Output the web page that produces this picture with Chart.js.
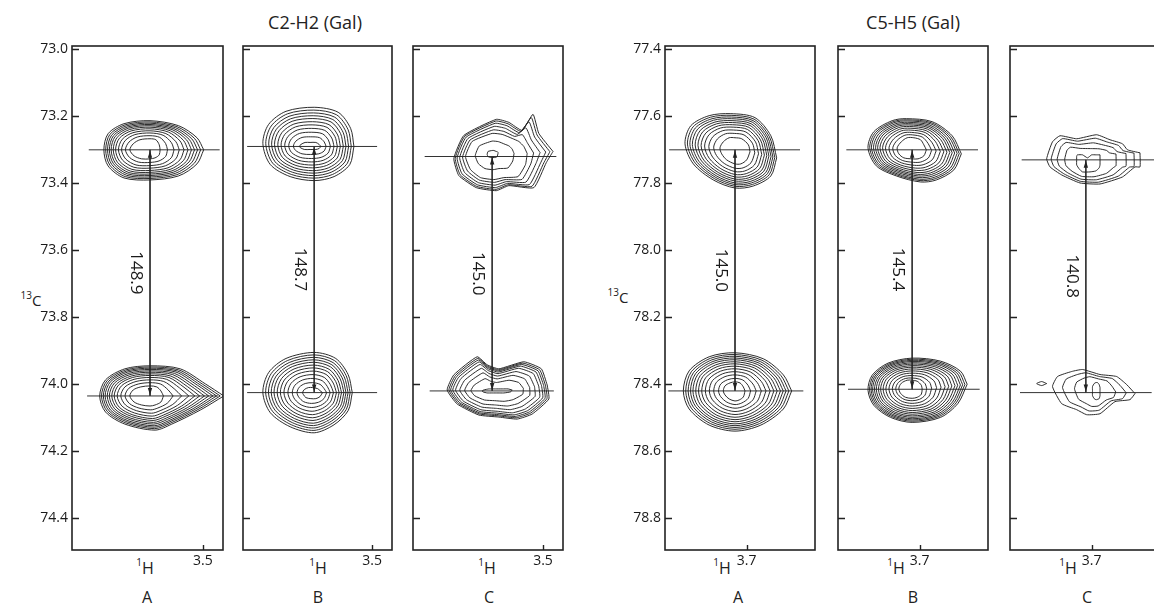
<!DOCTYPE html>
<html><head><meta charset="utf-8">
<script src="https://cdn.jsdelivr.net/npm/chart.js@4.4.0/dist/chart.umd.min.js"></script>
<style>
html,body{margin:0;padding:0;background:#fff;width:1154px;height:606px;overflow:hidden;font-family:"Open Sans",sans-serif;color:#222}
.box{position:absolute}
.t{position:absolute;white-space:nowrap;transform:translate(-50%,-50%);line-height:1}
.t sup{font-size:10px;vertical-align:top;position:relative;top:-3px}
</style></head><body>
<div class="t" style="left:315px;top:22px;font-size:18px">C2-H2 (Gal)</div>
<div class="t" style="left:913px;top:22px;font-size:18px">C5-H5 (Gal)</div>
<div class="t" style="left:31px;top:300px;font-size:15px"><sup>13</sup>C</div>
<div class="t" style="left:618px;top:297px;font-size:15px"><sup>13</sup>C</div>
<div id="txt"></div>
<script>
// ---------------- DATA ----------------
const panelNames = ['A', 'B', 'C'];
// C2-H2 (Gal) group
const leftCRange = [72.99, 74.495];
const leftHRange = [3.476, 3.656];
const leftYTicks = [73.0, 73.2, 73.4, 73.6, 73.8, 74.0, 74.2, 74.4];
const leftXTicks = [3.5];
const leftJ = ['148.9', '148.7', '145.0'];
const leftCenterH = [3.563, 3.570, 3.561];
const leftUpperC = [73.30, 73.29, 73.32];
const leftLowerC = [74.035, 74.025, 74.02];
const leftUpperLineH = [[3.636, 3.480], [3.651, 3.494], [3.642, 3.484]];
const leftLowerLineH = [[3.638, 3.482], [3.651, 3.494], [3.636, 3.487]];
// C5-H5 (Gal) group
const rightCRange = [77.39, 78.895];
const rightHRange = [3.618, 3.798];
const rightYTicks = [77.4, 77.6, 77.8, 78.0, 78.2, 78.4, 78.6, 78.8];
const rightXTicks = [3.7];
const rightJ = ['145.0', '145.4', '140.8'];
const rightCenterH = [3.714, 3.709, 3.707];
const rightUpperC = [77.70, 77.70, 77.73];
const rightLowerC = [78.42, 78.415, 78.425];
const rightUpperLineH = [[3.793, 3.636], [3.788, 3.630], [3.784, 3.600]];
const rightLowerLineH = [[3.794, 3.632], [3.786, 3.628], [3.786, 3.628]];

// contour outlines: [dH, dC] offsets (ppm) from the cross-peak centre
const L_A_up_out = [[-0.064,0],[-0.056,0.042],[-0.034,0.078],[0,0.090],[0.031,0.084],[0.050,0.048],[0.055,0],[0.050,-0.048],[0.031,-0.078],[0,-0.087],[-0.034,-0.072],[-0.056,-0.036]];
const L_A_up_in  = [[-0.012,0],[-0.011,0.015],[-0.006,0.024],[0,0.027],[0.010,0.027],[0.019,0.018],[0.024,0],[0.020,-0.018],[0.012,-0.030],[0,-0.033],[-0.007,-0.030],[-0.011,-0.015]];
const L_A_lo_out = [[-0.088,0],[-0.060,0.042],[-0.026,0.084],[-0.006,0.102],[0.030,0.084],[0.053,0.048],[0.060,0],[0.053,-0.048],[0.030,-0.081],[0,-0.090],[-0.036,-0.081],[-0.066,-0.036]];
const L_A_lo_in  = [[-0.016,0],[-0.013,0.018],[-0.006,0.027],[0,0.030],[0.010,0.027],[0.019,0.018],[0.024,0],[0.020,-0.018],[0.011,-0.027],[0,-0.030],[-0.008,-0.027],[-0.013,-0.015]];
const L_B_up_out = [[-0.048,0],[-0.043,0.054],[-0.024,0.090],[0,0.102],[0.029,0.090],[0.053,0.054],[0.062,-0.009],[0.055,-0.066],[0.034,-0.105],[0,-0.117],[-0.029,-0.102],[-0.044,-0.054]];
const L_B_up_in  = [[-0.008,0],[-0.006,0.006],[-0.002,0.009],[0.005,0.009],[0.012,0.009],[0.017,0.003],[0.018,0],[0.016,-0.006],[0.011,-0.012],[0.005,-0.012],[-0.002,-0.012],[-0.006,-0.006]];
const L_B_lo_out = [[-0.046,0],[-0.041,0.054],[-0.024,0.096],[0,0.120],[0.029,0.102],[0.053,0.060],[0.062,0],[0.055,-0.060],[0.034,-0.102],[0,-0.120],[-0.026,-0.102],[-0.041,-0.054]];
const L_B_lo_in  = [[-0.010,0],[-0.007,0.012],[-0.002,0.018],[0.004,0.018],[0.010,0.015],[0.013,0.006],[0.014,0],[0.012,-0.009],[0.007,-0.015],[0.002,-0.015],[-0.004,-0.012],[-0.007,-0.006]];
const L_C_up_out = [[-0.073,-0.015],[-0.065,0.018],[-0.050,0.093],[-0.020,0.087],[-0.005,0.102],[0.019,0.093],[0.040,0.057],[0.046,0.006],[0.034,-0.063],[-0.005,-0.111],[-0.020,-0.102],[-0.036,-0.078],[-0.049,-0.126],[-0.056,-0.069]];
const L_C_up_mid = [[-0.042,-0.009],[-0.040,0.024],[-0.031,0.060],[-0.014,0.063],[-0.002,0.069],[0.014,0.063],[0.026,0.039],[0.032,0],[0.024,-0.045],[0,-0.069],[-0.012,-0.066],[-0.024,-0.054],[-0.032,-0.045],[-0.038,-0.030]];
const L_C_up_in  = [[-0.007,-0.009],[-0.006,0],[-0.004,0.003],[-0.001,0.003],[0,0.003],[0.002,0.003],[0.005,0],[0.006,-0.006],[0.005,-0.015],[0,-0.018],[-0.002,-0.018],[-0.005,-0.015],[-0.006,-0.015],[-0.007,-0.012]];
const L_C_lo_out = [[-0.066,-0.018],[-0.068,0.024],[-0.048,0.069],[-0.030,0.084],[-0.008,0.078],[0.016,0.072],[0.042,0.039],[0.054,-0.003],[0.046,-0.048],[0.018,-0.102],[0.006,-0.078],[-0.008,-0.066],[-0.038,-0.087],[-0.059,-0.066]];
const L_C_lo_in  = [[-0.024,-0.003],[-0.022,0.003],[-0.014,0.006],[-0.007,0.006],[0,0.006],[0.006,0.006],[0.011,0.003],[0.012,0],[0.010,-0.003],[0.004,-0.006],[0,-0.006],[-0.004,-0.006],[-0.012,-0.006],[-0.019,-0.006]];
const R_A_up_out = [[-0.050,0.024],[-0.043,0.078],[-0.022,0.108],[0,0.114],[0.026,0.090],[0.050,0.042],[0.060,-0.018],[0.053,-0.072],[0.031,-0.102],[0.005,-0.108],[-0.024,-0.096],[-0.043,-0.042]];
const R_A_up_in  = [[-0.018,0.006],[-0.014,0.030],[-0.007,0.042],[0,0.042],[0.010,0.030],[0.016,0.012],[0.018,-0.006],[0.014,-0.024],[0.007,-0.036],[0,-0.036],[-0.008,-0.033],[-0.016,-0.015]];
const R_A_lo_out = [[-0.068,0],[-0.058,0.054],[-0.031,0.102],[0,0.120],[0.031,0.102],[0.055,0.054],[0.062,0],[0.055,-0.060],[0.031,-0.102],[0,-0.114],[-0.034,-0.096],[-0.058,-0.048]];
const R_A_lo_in  = [[-0.012,0],[-0.010,0.018],[-0.005,0.027],[0,0.030],[0.007,0.024],[0.012,0.012],[0.014,0],[0.012,-0.015],[0.006,-0.024],[0,-0.027],[-0.006,-0.024],[-0.010,-0.012]];
const R_B_up_out = [[-0.059,0.012],[-0.050,0.060],[-0.029,0.090],[-0.010,0.096],[0.019,0.078],[0.043,0.048],[0.053,-0.006],[0.046,-0.054],[0.024,-0.087],[0.007,-0.093],[-0.024,-0.084],[-0.048,-0.042]];
const R_B_up_in  = [[-0.017,0],[-0.014,0.018],[-0.007,0.027],[0,0.027],[0.010,0.024],[0.016,0.012],[0.018,-0.006],[0.013,-0.024],[0.006,-0.036],[-0.002,-0.036],[-0.010,-0.030],[-0.014,-0.015]];
const R_B_lo_out = [[-0.066,-0.015],[-0.055,0.042],[-0.034,0.084],[0,0.099],[0.026,0.084],[0.046,0.048],[0.053,0.003],[0.048,-0.042],[0.029,-0.078],[0,-0.093],[-0.034,-0.084],[-0.058,-0.054]];
const R_B_lo_in  = [[-0.012,0],[-0.011,0.015],[-0.006,0.024],[0,0.027],[0.008,0.024],[0.014,0.012],[0.016,-0.003],[0.013,-0.018],[0.006,-0.027],[0,-0.027],[-0.006,-0.024],[-0.011,-0.012]];
const R_C_up_out = [[-0.065,-0.021],[-0.065,0.021],[-0.059,0.021],[-0.044,0.051],[-0.017,0.072],[0.007,0.069],[0.029,0.045],[0.043,0.021],[0.047,-0.003],[0.040,-0.054],[0.031,-0.072],[0.011,-0.063],[-0.013,-0.075],[-0.029,-0.060],[-0.044,-0.048],[-0.050,-0.030]];
const R_C_up_in  = [[-0.017,-0.015],[-0.017,0.015],[-0.016,0.024],[-0.012,0.033],[-0.005,0.036],[0.004,0.036],[0.008,0.027],[0.011,0.015],[0.011,0],[0.011,-0.012],[0.010,-0.015],[0.004,-0.015],[-0.002,-0.006],[-0.007,-0.015],[-0.012,-0.015],[-0.014,-0.015]];
const R_C_lo_out = [[-0.059,0.003],[-0.053,0.021],[-0.035,0.027],[-0.017,0.063],[-0.001,0.066],[0.011,0.051],[0.029,0.033],[0.040,-0.018],[0.034,-0.048],[0.017,-0.063],[0.004,-0.069],[-0.017,-0.054],[-0.037,-0.048],[-0.049,-0.024]];
const R_C_lo_in  = [[-0.017,-0.006],[-0.017,0.009],[-0.016,0.018],[-0.013,0.021],[-0.012,0.021],[-0.010,0.018],[-0.008,0.009],[-0.008,-0.006],[-0.008,-0.018],[-0.010,-0.027],[-0.012,-0.030],[-0.014,-0.030],[-0.016,-0.024],[-0.017,-0.015]];
const R_C_lo_blob = [[0.047,-0.027],[0.053,-0.021],[0.059,-0.027],[0.053,-0.033]];

// contour levels: position along the key outlines (0 = outer outline, last = innermost outline)
const LV_L_A_up = [0,0.07,0.14,0.21,0.28,0.36,0.45,0.56,0.68,0.83,1];
const LV_L_A_lo = [0,0.06,0.12,0.18,0.25,0.32,0.40,0.48,0.58,0.70,0.84,1];
const LV_L_B_up = [0,0.08,0.16,0.24,0.32,0.41,0.50,0.60,0.71,0.84,1];
const LV_L_B_lo = [0,0.07,0.14,0.21,0.28,0.36,0.44,0.53,0.63,0.74,0.86,1];
const LV_L_C_up = [0,0.12,0.28,0.5,0.75,1.0,1.45,2];
const LV_L_C_lo = [0,0.05,0.1,0.16,0.24,0.36,0.5,0.68,1];
const LV_R_A_up = [0,0.07,0.14,0.21,0.29,0.37,0.46,0.56,0.68,0.82,1];
const LV_R_A_lo = [0,0.06,0.12,0.18,0.24,0.31,0.38,0.46,0.55,0.65,0.76,0.88,1];
const LV_R_B_up = [0,0.06,0.12,0.19,0.26,0.33,0.41,0.5,0.6,0.72,0.85,1];
const LV_R_B_lo = [0,0.05,0.1,0.15,0.21,0.27,0.34,0.41,0.49,0.58,0.68,0.79,0.9,1];
const LV_R_C_up = [0,0.15,0.35,0.6,1];
const LV_R_C_lo = [0,0.25,0.55,1];

// ---------------- LAYOUT (pixels, not data) ----------------
const TOP = 46, BOTTOM = 550, YW = 52, XH = 30, PT = 14, PR = 6;
const layout = [
  {g:'L', i:0, L:72,  R:223, name:145, letter:147},
  {g:'L', i:1, L:243, R:392, name:318, letter:318},
  {g:'L', i:2, L:413, R:563, name:487, letter:489},
  {g:'R', i:0, L:665, R:815, name:722, letter:738},
  {g:'R', i:1, L:838, R:988, name:896, letter:913},
  {g:'R', i:2, L:1010,R:1160,name:1068,letter:1087}
];
const peaks = {
  L: [[[L_A_up_out,L_A_up_in],LV_L_A_up,[L_A_lo_out,L_A_lo_in],LV_L_A_lo],
      [[L_B_up_out,L_B_up_in],LV_L_B_up,[L_B_lo_out,L_B_lo_in],LV_L_B_lo],
      [[L_C_up_out,L_C_up_mid,L_C_up_in],LV_L_C_up,[L_C_lo_out,L_C_lo_in],LV_L_C_lo]],
  R: [[[R_A_up_out,R_A_up_in],LV_R_A_up,[R_A_lo_out,R_A_lo_in],LV_R_A_lo],
      [[R_B_up_out,R_B_up_in],LV_R_B_up,[R_B_lo_out,R_B_lo_in],LV_R_B_lo],
      [[R_C_up_out,R_C_up_in],LV_R_C_up,[R_C_lo_out,R_C_lo_in],LV_R_C_lo]]
};

Chart.defaults.font.family = '"Open Sans", sans-serif';
Chart.defaults.font.size = 14;
Chart.defaults.color = '#1a1a1a';

const deco = {
  id: 'deco',
  afterDatasetsDraw(chart, args, o) {
    const {ctx, chartArea: a, scales: {x, y}} = chart;
    ctx.save();
    ctx.strokeStyle = '#222';
    ctx.lineWidth = 1.6;
    ctx.strokeRect(a.left, a.top, a.right - a.left, a.bottom - a.top);
    ctx.lineWidth = 1.4;
    ctx.beginPath();
    y.ticks.forEach(t => { const py = Math.round(y.getPixelForValue(t.value)) + 0.5; ctx.moveTo(a.left, py); ctx.lineTo(a.left + 7, py); });
    x.ticks.forEach(t => { const px = Math.round(x.getPixelForValue(t.value)) + 0.5; ctx.moveTo(px, a.bottom); ctx.lineTo(px, a.bottom - 5); });
    ctx.stroke();
    const ax = x.getPixelForValue(o.h), y1 = y.getPixelForValue(o.c1), y2 = y.getPixelForValue(o.c2);
    ctx.fillStyle = '#222';
    ctx.beginPath(); ctx.moveTo(ax, y1 + 1); ctx.lineTo(ax - 2.2, y1 + 8); ctx.lineTo(ax + 2.2, y1 + 8); ctx.closePath(); ctx.fill();
    ctx.beginPath(); ctx.moveTo(ax, y2 - 1); ctx.lineTo(ax - 2.2, y2 - 8); ctx.lineTo(ax + 2.2, y2 - 8); ctx.closePath(); ctx.fill();
    ctx.translate(ax - 14, (y1 + y2) / 2);
    ctx.rotate(Math.PI / 2);
    ctx.font = '17px "Open Sans", sans-serif';
    ctx.textAlign = 'center'; ctx.textBaseline = 'middle';
    ctx.fillStyle = '#1a1a1a';
    ctx.fillText(o.label, 0, 0);
    ctx.restore();
  }
};

function contourSets(h0, c0, keys, levels) {
  return levels.map(t => {
    const seg = Math.min(Math.floor(t), keys.length - 2), f = t - seg;
    const A = keys[seg], B = keys[seg + 1];
    const pts = A.map((p, k) => ({x: h0 + p[0] + (B[k][0] - p[0]) * f, y: c0 + p[1] + (B[k][1] - p[1]) * f}));
    pts.push(pts[0]);
    return pts;
  });
}
function lineDS(data, w, tension, color) {
  return {data, showLine: true, pointRadius: 0, borderColor: color || '#222', borderWidth: w, tension: tension, fill: false};
}

const txt = document.getElementById('txt');
layout.forEach(p => {
  const G = p.g === 'L';
  const cR = G ? leftCRange : rightCRange, hR = G ? leftHRange : rightHRange;
  const yT = G ? leftYTicks : rightYTicks, xT = G ? leftXTicks : rightXTicks;
  const h = (G ? leftCenterH : rightCenterH)[p.i];
  const cu = (G ? leftUpperC : rightUpperC)[p.i], cl = (G ? leftLowerC : rightLowerC)[p.i];
  const lu = (G ? leftUpperLineH : rightUpperLineH)[p.i], ll = (G ? leftLowerLineH : rightLowerLineH)[p.i];
  const J = (G ? leftJ : rightJ)[p.i];
  const pk = peaks[p.g][p.i];
  const irregular = p.i === 2;
  const ds = [];
  contourSets(h, cu, pk[0], pk[1]).forEach(d => ds.push(lineDS(d, 0.95, irregular ? 0.15 : 0.3)));
  contourSets(h, cl, pk[2], pk[3]).forEach(d => ds.push(lineDS(d, 0.95, irregular ? 0.15 : 0.3)));
  if (p.g === 'R' && p.i === 2) {
    const b = R_C_lo_blob.map(q => ({x: h + q[0], y: cl + q[1]})); b.push(b[0]);
    ds.push(lineDS(b, 0.95, 0.2));
  }
  ds.push(lineDS([{x: lu[0], y: cu}, {x: lu[1], y: cu}], 1, 0, '#333'));
  ds.push(lineDS([{x: ll[0], y: cl}, {x: ll[1], y: cl}], 1, 0, '#333'));
  ds.push(lineDS([{x: h, y: cu}, {x: h, y: cl}], 1, 0, '#333'));

  const div = document.createElement('div');
  div.className = 'box';
  const w = p.R - p.L + YW + PR, hgt = BOTTOM - TOP + PT + XH;
  div.style.cssText = `left:${p.L - YW}px;top:${TOP - PT}px;width:${w}px;height:${hgt}px`;
  const cv = document.createElement('canvas');
  div.appendChild(cv);
  document.body.appendChild(div);

  new Chart(cv, {
    type: 'scatter',
    data: {datasets: ds},
    options: {
      responsive: true, maintainAspectRatio: false, animation: false, events: [],
      layout: {padding: {left: 0, top: PT, right: PR, bottom: 0}},
      plugins: {legend: {display: false}, tooltip: {enabled: false},
        deco: {h: h, c1: cu, c2: cl, label: J}},
      scales: {
        x: {type: 'linear', reverse: true, min: hR[0], max: hR[1],
          afterBuildTicks: s => { s.ticks = xT.map(v => ({value: v})); },
          afterFit: s => { s.height = XH; },
          grid: {display: false, drawTicks: false}, border: {display: false},
          ticks: {padding: 3, callback: v => v.toFixed(1), maxRotation: 0, autoSkip: false}},
        y: {type: 'linear', reverse: true, min: cR[0], max: cR[1],
          afterBuildTicks: s => { s.ticks = yT.map(v => ({value: v})); },
          afterFit: s => { s.width = YW; },
          grid: {display: false, drawTicks: false}, border: {display: false},
          ticks: {display: p.i === 0, padding: 4, callback: v => v.toFixed(1), autoSkip: false}}
      }
    },
    plugins: [deco]
  });

  const n = document.createElement('div');
  n.className = 't'; n.style.cssText = `left:${p.name}px;top:568px;font-size:16px`;
  n.innerHTML = '<sup>1</sup>H';
  txt.appendChild(n);
  const l = document.createElement('div');
  l.className = 't'; l.style.cssText = `left:${p.letter}px;top:597px;font-size:16px`;
  l.textContent = panelNames[p.i];
  txt.appendChild(l);
});
</script>
</body></html>
